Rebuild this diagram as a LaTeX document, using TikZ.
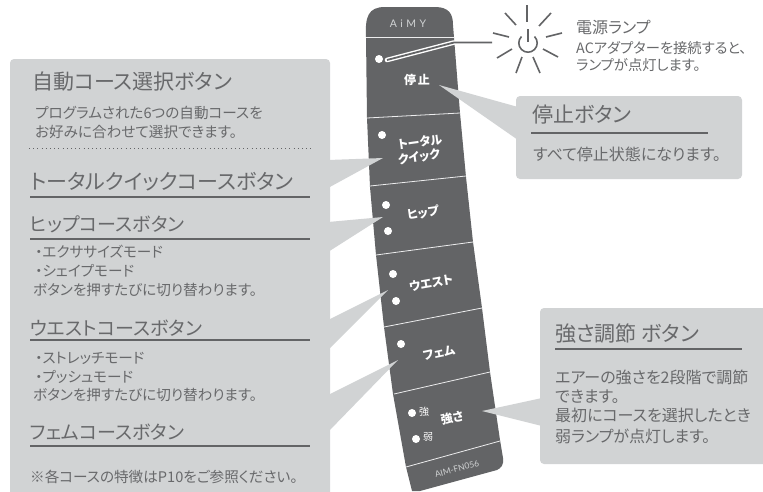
\documentclass[tikz,border=0pt]{standalone}
\usepackage{fontspec}
\setmainfont{Noto Sans CJK JP}[RawFeature=+palt]
\newfontfamily\latn{Lato}
\definecolor{pale}{HTML}{D1D3D4}
\definecolor{ink}{HTML}{636466}
\definecolor{txt}{HTML}{68696B}
\newcommand{\fs}[1]{\fontsize{#1}{#1}\selectfont}
\tikzset{
  pane/.style={fill=pale,draw=none},
  head/.style={anchor=west,inner sep=0,text=txt,font=\fs{21}},
  body/.style={anchor=west,inner sep=0,text=txt,font=\fs{14.6}},
  rulel/.style={draw=ink,line width=1.2pt},
  ray/.style={draw=ink,line width=1.6pt},
  btn/.style={inner sep=0,text=white,font=\bfseries\fs{12}},
  led/.style={circle,fill=white,minimum size=8pt,inner sep=0},
  divl/.style={draw=pale!40!white,line width=0.8pt},
}
\begin{document}
\begin{tikzpicture}[x=1pt,y=-1pt]
\useasboundingbox (0,0) rectangle (763,491);
\clip (0,0) rectangle (763,491);
% device
\path[fill=ink] (366,37)
  .. controls (365,17) and (368,7) .. (385,7)
  -- (435,7)
  .. controls (449,7) and (453,14) .. (453,25)
  -- (455,50) -- (460,113) -- (466,177) -- (473,242) -- (482,308) -- (490,372) -- (500,440)
  -- (503,458) .. controls (504,465) and (501,468) .. (497,470)
  -- (420,491) -- (412,491)
  -- (406,467) -- (393,394) -- (384,327) -- (376,255) -- (370,187) -- (367,118) -- cycle;
\draw[divl] (366,37)--(454,37);
\draw[divl] (367,118)--(460,113);
\draw[divl] (370,186)--(466,176);
\draw[divl] (376,255)--(473,242);
\draw[divl] (384,327)--(482,308);
\draw[divl] (394,394)--(490,372);
\draw[divl] (406,467)--(500,441);
\node[inner sep=0,text=pale,font=\latn\fs{10.5}] (brand) at (408,24) {A\,\,i\,\,M\,\,Y};
\node[btn] (bstop) at (417,80) {停\,止};
\node[btn,rotate=8] (btotal) at (420,142) {トータル};
\node[btn,rotate=8] (bquick) at (419,157) {クイック};
\node[btn,rotate=8] (bhip) at (423,213) {ヒップ};
\node[btn,rotate=10] (bwaist) at (431,283) {ウエスト};
\node[btn,rotate=12] (bfem) at (439,353) {フェム};
\node[btn,rotate=12] (bstr) at (452,418) {強さ};
\node[btn,font=\fs{10}] (lstrong) at (424,412) {強};
\node[btn,font=\fs{10}] (lweak) at (428,437) {弱};
\node[inner sep=0,text=pale,font=\latn\fs{8.5},rotate=15] (model) at (457,469) {AIM-FN056};
\foreach \n/\x/\y in {lp/379/59,l1/382/135,l2/386/205,l3/388/231,l4/393/274,l5/396/301,l6/401/344,l7/412/413,l8/416/439}
  \node[led] (\n) at (\x,\y) {};
% panels and wedges
\fill[pale] (328,160)--(383,158)--(328,188)--cycle;
\fill[pale] (328,222)--(383,217)--(328,252)--cycle;
\fill[pale] (328,320)--(388,290)--(328,350)--cycle;
\fill[pale] (328,395)--(398,360)--(328,432)--cycle;
\path[pane,rounded corners=4pt] (10,59) rectangle (330,520);
\path[pane] (439,85)--(518,107)--(518,140)--cycle;
\path[pane,rounded corners=4pt] (516,96) rectangle (742,179);
\path[pane] (482,411)--(542,398)--(542,426)--cycle;
\path[pane,rounded corners=4pt] (540,308) rectangle (790,464);
% power
\coordinate (ls) at (387,60);
\coordinate (le) at (454,42.5);
\draw[white,line width=4.6pt,line cap=round] (ls)--(le);
\draw[ink,line width=1.8pt] (ls)--(le)--(492,42.5);
\draw[ray] (528,29)--(528,42);
\draw[ray] (521.5,36.5) arc[start angle=225,end angle=-45,radius=9.2];
\draw[ray] (527,5)--(527,22);
\draw[ray] (505,13)--(516,25);
\draw[ray] (551,13)--(539,26);
\draw[ray] (493,33)--(509,37);
\draw[ray] (562,33)--(546,37);
\draw[ray] (497,58)--(512,49);
\draw[ray] (558,57)--(543,49);
\draw[ray] (516,73)--(522,57);
\draw[ray] (540,73)--(533,57);
\node[body,font=\fs{16}] (tlamp) at (576,27) {電源ランプ};
\node[body,font=\fs{14.3}] (tlamp1) at (576,48) {ACアダプターを接続すると、};
\node[body,font=\fs{14.3}] (tlamp2) at (576,65) {ランプが点灯します。};
% left texts
\node[head] (t1) at (32,82) {自動コース選択ボタン};
\node[body] (t1a) at (35,113) {プログラムされた6つの自動コースを};
\node[body] (t1b) at (35,132) {お好みに合わせて選択できます。};
\draw[ink,line width=1pt,dash pattern=on 1pt off 3.2pt] (29,148)--(311,148);
\node[head] (t2) at (30,182) {トータルクイックコースボタン};
\draw[rulel] (30,197)--(310,197);
\node[head,font=\fs{19}] (t3) at (30,224) {ヒップコースボタン};
\draw[rulel] (30,239)--(310,239);
\node[body] (t3a) at (35,252) {・エクササイズモード};
\node[body] (t3b) at (35,271) {・シェイプモード};
\node[body] (t3c) at (33,290) {ボタンを押すたびに切り替わります。};
\node[head,font=\fs{19}] (t4) at (30,328) {ウエストコースボタン};
\draw[rulel] (30,340)--(310,340);
\node[body] (t4a) at (35,358) {・ストレッチモード};
\node[body] (t4b) at (35,377) {・プッシュモード};
\node[body] (t4c) at (33,395) {ボタンを押すたびに切り替わります。};
\node[head,font=\fs{19}] (t5) at (30,432) {フェムコースボタン};
\draw[rulel] (30,446)--(310,446);
\node[body] (t5a) at (30,477) {※各コースの特徴はP10をご参照ください。};
% stop
\node[head] (s1) at (532,115) {停止ボタン};
\draw[rulel] (531,133)--(708,133);
\node[body,font=\fs{16}] (s2) at (533,154) {すべて停止状態になります。};
% strength
\node[head] (p1) at (555,334) {強さ調節 ボタン};
\draw[rulel] (555,349)--(742,349);
\node[body,font=\fs{16}] (p2) at (555,377) {エアーの強さを2段階で調節};
\node[body,font=\fs{16}] (p3) at (555,397) {できます。};
\node[body,font=\fs{16}] (p4) at (555,415) {最初にコースを選択したとき};
\node[body,font=\fs{16}] (p5) at (555,436) {弱ランプが点灯します。};
\end{tikzpicture}
\end{document}
